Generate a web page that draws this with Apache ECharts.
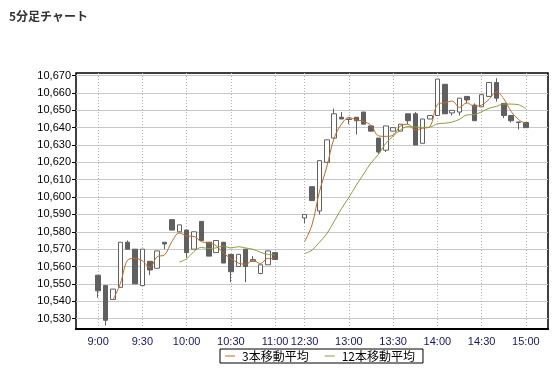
<!DOCTYPE html>
<html><head><meta charset="utf-8">
<script src="https://cdn.jsdelivr.net/npm/echarts@6/dist/echarts.min.js"></script>
<style>html,body{margin:0;padding:0;background:#fff}#c{width:558px;height:368px}</style>
</head><body><div id="c"></div>
<script>
// ---- data (5-minute candles) ----
const times = [
  '9:00','9:05','9:10','9:15','9:20','9:25','9:30','9:35','9:40','9:45','9:50','9:55',
  '10:00','10:05','10:10','10:15','10:20','10:25','10:30','10:35','10:40','10:45','10:50','10:55','11:00',
  '12:30','12:35','12:40','12:45','12:50','12:55','13:00','13:05','13:10','13:15','13:20','13:25',
  '13:30','13:35','13:40','13:45','13:50','13:55','14:00','14:05','14:10','14:15','14:20','14:25',
  '14:30','14:35','14:40','14:45','14:50','14:55','15:00'
];
const opens = [
  10555,10549,10541,10548,10574,10570,10549,10563,10559,10574,10587,10580,
  10581,10570,10586,10574,10568,10574,10567,10560,10570,10563,10556,10561,10568,
  10588,10606,10592,10620,10634,10646,10645,10646,10649,10641,10634,10627,
  10638,10638,10648,10648,10631,10645,10647,10665,10648.5,10649,10658,10653,
  10652,10658,10666,10654,10647,10643.3,10643
];
const closes = [
  10546,10529,10547,10574,10570,10550,10570,10558,10569,10573,10581,10584,
  10568,10580,10575,10566,10575,10562,10557,10567,10560,10564,10561,10569,10564,
  10590,10598,10621,10633,10648,10645,10644.7,10644,10642,10638,10626,10641,
  10640,10642,10644,10630,10645,10647,10668,10648,10650,10657,10656,10644,
  10659,10666,10657,10647,10644,10643,10640
];
const lows = [
  10542,10526,10541,10548,10570,10550,10549,10555,10559,10570,10581,10580,
  10565,10570,10575,10566,10568,10562,10551,10560,10551,10563,10555.5,10561,10564,
  10585,10598,10590,10620,10634,10645,10642,10636,10642,10638,10625,10626,
  10638,10638,10642,10630,10631,10645,10647,10648,10647,10647,10654,10644,
  10652,10658,10655,10645.5,10643,10639,10640
];
const highs = [
  10555,10549,10547,10574,10575,10570,10570,10563,10569,10574,10587,10584,
  10581,10580,10586,10574,10575,10574,10567,10567,10570,10566,10561,10569,10568,
  10590,10606,10621,10633,10651,10649,10645,10646,10649,10641,10634,10641,
  10640,10642,10648,10649,10645,10647,10668,10665,10650,10657,10658,10654,
  10659,10666,10668.5,10654,10647,10643.3,10643
];
const morningClose = '11:00';
const xTickLabels = ['9:00','9:30','10:00','10:30','11:00','12:30','13:00','13:30','14:00','14:30','15:00'];
const yTickValues = [10530,10540,10550,10560,10570,10580,10590,10600,10610,10620,10630,10640,10650,10660,10670];
const maPeriods = [3, 12];
const maNames = ['3本移動平均', '12本移動平均'];
const maColors = ['#c4691f', '#8a9e3a'];

// ---- build category axis (empty slots at edges and over the lunch break) ----
const PAD = 3;
const categories = [];
const slotOf = [];
for (let i = 0; i < PAD; i++) categories.push('_s' + i);
times.forEach((t, i) => {
  slotOf.push(categories.length);
  categories.push(t);
  if (t === morningClose) for (let k = 0; k < PAD; k++) categories.push('_g' + k);
});
for (let i = 0; i < PAD; i++) categories.push('_e' + i);

function toSlots(values) {
  const arr = categories.map(() => '-');
  values.forEach((v, i) => { arr[slotOf[i]] = v; });
  return arr;
}
function movingAverage(n) {
  return closes.map((c, i) => {
    if (i < n - 1) return '-';
    let s = 0;
    for (let j = 0; j < n; j++) s += closes[i - j];
    return +(s / n).toFixed(2);
  });
}
const candleData = toSlots(times.map((t, i) => [opens[i], closes[i], lows[i], highs[i]]));

const fmt = v => String(v).replace(/\B(?=(\d{3})+(?!\d))/g, ',');
const labelSet = new Set(xTickLabels);

const chart = echarts.init(document.getElementById('c'), null, {renderer: 'canvas'});
chart.setOption({
  animation: false,
  backgroundColor: '#fff',
  title: {
    text: '5分足チャート', left: 9, top: 10, padding: 0,
    textStyle: {fontSize: 12, fontWeight: 'bold', color: '#333', fontFamily: 'Noto Sans CJK JP'}
  },
  legend: {
    left: 220, top: 349, padding: [1, 8, 1, 5], itemGap: 16, itemWidth: 10, itemHeight: 1,
    borderColor: '#000', borderWidth: 1, backgroundColor: '#fff',
    textStyle: {fontSize: 12, color: '#000', fontFamily: 'Noto Sans CJK JP', padding: [0, 0, 0, 2]},
    data: maNames.map(n => ({name: n, icon: 'rect', itemStyle: {borderWidth: 0}}))
  },
  grid: {left: 76, top: 73, width: 472, height: 256, show: true, borderColor: '#000', borderWidth: 1.5},
  xAxis: {
    type: 'category', data: categories, boundaryGap: false,
    axisLine: {show: true, lineStyle: {color: '#000', width: 2}},
    axisTick: {show: false},
    axisLabel: {interval: (i, v) => labelSet.has(v), color: '#14146e', fontSize: 11, fontFamily: 'Liberation Sans', margin: 7},
    splitLine: {show: true, interval: (i, v) => labelSet.has(v), lineStyle: {color: '#b4b4b4', type: [1, 2], width: 1}}
  },
  yAxis: {
    type: 'value', min: 10524, max: 10671.5, scale: true,
    axisLine: {show: false},
    axisTick: {show: true, length: 4, lineStyle: {color: '#000'}, customValues: yTickValues},
    axisLabel: {customValues: yTickValues, formatter: fmt, color: '#000', fontSize: 11, fontFamily: 'Liberation Sans', margin: 5},
    splitLine: {show: true, lineStyle: {color: '#c8c8c8', width: 1}}
  },
  series: [
    {
      type: 'candlestick', name: 'price', data: candleData, barWidth: 5,
      itemStyle: {color: '#fff', color0: '#606060', borderColor: '#606060', borderColor0: '#606060', borderColorDoji: '#606060', borderWidth: 1}
    }
  ].concat(maPeriods.map((n, k) => ({
    type: 'line', name: maNames[k], data: toSlots(movingAverage(n)),
    showSymbol: false, symbol: 'none', smooth: 0.35, connectNulls: false,
    lineStyle: {color: maColors[k], width: 1}, itemStyle: {color: maColors[k]}, z: 3
  })))
});
</script></body></html>
